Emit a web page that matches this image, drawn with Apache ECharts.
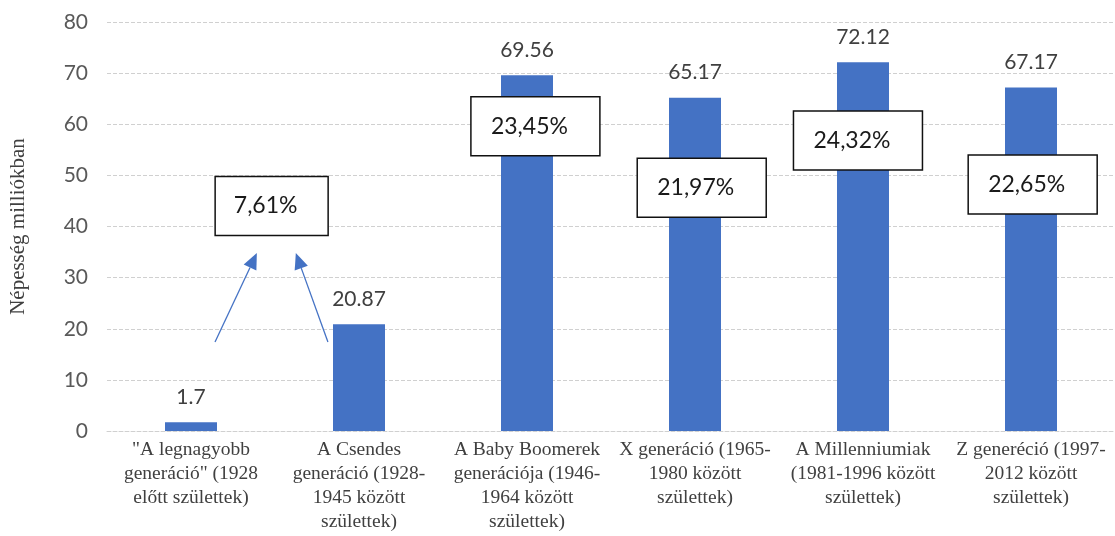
<!DOCTYPE html>
<html>
<head>
<meta charset="utf-8">
<script src="https://cdn.jsdelivr.net/npm/echarts@6/dist/echarts.min.js"></script>
<style>html,body{margin:0;padding:0;background:#fff}#c{width:1115px;height:536px}</style>
</head>
<body>
<div id="c"></div>
<script>
// Data
const categories = [
  '"A legnagyobb\ngeneráció" (1928\nelőtt születtek)',
  'A Csendes\ngeneráció (1928-\n1945 között\nszülettek)',
  'A Baby Boomerek\ngenerációja (1946-\n1964 között\nszülettek)',
  'X generáció (1965-\n1980 között\nszülettek)',
  'A Millenniumiak\n(1981-1996 között\nszülettek)',
  'Z generéció (1997-\n2012 között\nszülettek)'
];
const population = [1.7, 20.87, 69.56, 65.17, 72.12, 67.17];
const yTicks = [0, 10, 20, 30, 40, 50, 60, 70, 80];
const yAxisName = 'Népesség milliókban';
// Share annotations (text, position in category index / value space)
const shareLabels = ['7,61%', '23,45%', '21,97%', '24,32%', '22,65%'];
const shareIdx = [0.48, 2.05, 3.04, 3.97, 5.01];
const shareVal = [44.0, 59.6, 47.6, 56.8, 48.2];
// Arrows (from -> to, in category index / value space)
const arrowFromIdx = [0.143, 0.815];
const arrowFromVal = [17.4, 17.4];
const arrowToIdx = [0.392, 0.624];
const arrowToVal = [34.8, 34.8];

const chart = echarts.init(document.getElementById('c'), null, {renderer: 'canvas'});
const option = {
  animation: false,
  grid: {left: 106, right: 0, top: 22, bottom: 105, containLabel: false},
  xAxis: {
    type: 'category',
    data: categories,
    axisLine: {show: true, lineStyle: {color: '#d0d0d0', type: [4, 2], width: 1}},
    axisTick: {show: false},
    axisLabel: {
      interval: 0, margin: 7, color: '#404040',
      fontFamily: 'Liberation Serif', fontSize: 19.5, lineHeight: 24,
      verticalAlign: 'top'
    }
  },
  yAxis: {
    type: 'value', min: yTicks[0], max: yTicks[yTicks.length - 1], interval: 10,
    name: yAxisName, nameLocation: 'middle', nameGap: 78, nameRotate: 90,
    nameTextStyle: {fontFamily: 'Liberation Serif', fontSize: 21, color: '#404040'},
    axisLine: {show: false}, axisTick: {show: false},
    axisLabel: {color: '#595959', fontFamily: 'Lato', fontSize: 21, margin: 19},
    splitLine: {lineStyle: {color: '#d0d0d0', type: [4, 2], width: 1}}
  },
  series: [{
    type: 'bar',
    data: population,
    barWidth: 52,
    itemStyle: {color: '#4472C4'},
    label: {
      show: true, position: 'top', distance: 15,
      color: '#404040', fontFamily: 'Lato', fontSize: 21,
      formatter: p => String(p.value)
    }
  }]
};
chart.setOption(option);

function px(idx, val) {
  const a = chart.convertToPixel({xAxisIndex: 0}, categories[0]);
  const b = chart.convertToPixel({xAxisIndex: 0}, categories[1]);
  const x = a + idx * (b - a);
  const y = chart.convertToPixel({yAxisIndex: 0}, val);
  return [x, y];
}

const graphics = [];
shareLabels.forEach((t, i) => {
  const [cx, cy] = px(shareIdx[i], shareVal[i]);
  const w = i === 0 ? 113 : 129, h = 59;
  graphics.push({
    type: 'rect', shape: {x: cx - w / 2, y: cy - h / 2, width: w, height: h},
    style: {fill: '#fff', stroke: '#111', lineWidth: 1.5}, z: 100
  });
  graphics.push({
    type: 'text', x: cx - 6, y: cy,
    style: {text: t, fill: '#1a1a1a', font: '23px Lato', align: 'center', verticalAlign: 'middle'}, z: 101
  });
});
arrowFromIdx.forEach((_, i) => {
  const [x1, y1] = px(arrowFromIdx[i], arrowFromVal[i]);
  const [x2, y2] = px(arrowToIdx[i], arrowToVal[i]);
  const ang = Math.atan2(y2 - y1, x2 - x1);
  const L = 16, W = 7;
  const bx = x2 - L * Math.cos(ang), by = y2 - L * Math.sin(ang);
  const nx = -Math.sin(ang), ny = Math.cos(ang);
  graphics.push({
    type: 'line', shape: {x1: x1, y1: y1, x2: bx, y2: by},
    style: {stroke: '#4472C4', lineWidth: 1.3}, z: 100
  });
  graphics.push({
    type: 'polygon',
    shape: {points: [[x2, y2], [bx + nx * W, by + ny * W], [bx - nx * W, by - ny * W]]},
    style: {fill: '#4472C4'}, z: 100
  });
});
chart.setOption({graphic: graphics});
</script>
</body>
</html>
